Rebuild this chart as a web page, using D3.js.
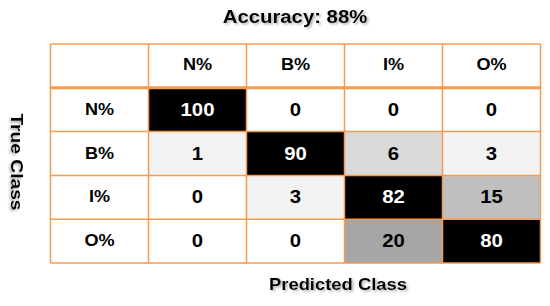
<!DOCTYPE html>
<html><head><meta charset="utf-8">
<script src="https://cdn.jsdelivr.net/npm/d3@7"></script>
<style>html,body{margin:0;padding:0;background:#fff;}</style>
</head><body>
<svg id="chart" width="550" height="306"></svg>
<script>
const title = "Accuracy: 88%";
const xTitle = "Predicted Class";
const yTitle = "True Class";
const predictedClasses = ["N%", "B%", "I%", "O%"];
const trueClasses = ["N%", "B%", "I%", "O%"];
const rowN = [100, 0, 0, 0];
const rowB = [1, 90, 6, 3];
const rowI = [0, 3, 82, 15];
const rowO = [0, 0, 20, 80];
const values = [rowN, rowB, rowI, rowO];
const shadeThresholds = [1, 5, 10, 18, 50];
const shadeColors = ["#ffffff", "#f2f2f2", "#d9d9d9", "#bfbfbf", "#a6a6a6", "#000000"];

const svg = d3.select("#chart");
const defs = svg.append("defs");
const f = defs.append("filter").attr("id", "sh").attr("x", "-10%").attr("y", "-30%").attr("width", "130%").attr("height", "180%");
f.append("feDropShadow").attr("dx", 1.5).attr("dy", 1.5).attr("stdDeviation", 1).attr("flood-color", "#777").attr("flood-opacity", 0.6);

const FONT = "'Liberation Sans', Arial, sans-serif";
const SX = 1.13;
const ORANGE = "#F79A4E";

const cols = ["", ...predictedClasses];
const rows = ["", ...trueClasses];
const x = d3.scaleBand().domain(cols).range([50.5, 540.5]);
const y = d3.scaleBand().domain(rows).range([44, 263]);
const shade = d3.scaleThreshold().domain(shadeThresholds).range(shadeColors);

function txt(g, tx, ty, s, size, opts = {}) {
  const t = g.append("text")
    .attr("transform", `translate(${tx},${ty}) ${opts.rot ? "rotate(" + opts.rot + ")" : ""} scale(${SX},1)`)
    .attr("text-anchor", "middle")
    .attr("dominant-baseline", "central")
    .attr("font-family", FONT)
    .attr("font-weight", "bold")
    .attr("font-size", size)
    .attr("fill", opts.fill || "#000")
    .text(s);
  if (opts.shadow) t.attr("filter", "url(#sh)");
  return t;
}

const cells = [];
trueClasses.forEach((r, i) => predictedClasses.forEach((c, j) => cells.push({ r, c, v: values[i][j] })));

const g = svg.append("g");
cols.forEach(c => g.append("rect").attr("x", x(c)).attr("y", y("")).attr("width", x.bandwidth()).attr("height", y.bandwidth()).attr("fill", "#fff"));
rows.forEach(r => g.append("rect").attr("x", x("")).attr("y", y(r)).attr("width", x.bandwidth()).attr("height", y.bandwidth()).attr("fill", "#fff"));

g.selectAll("rect.cell").data(cells).join("rect").attr("class", "cell")
  .attr("x", d => x(d.c)).attr("y", d => y(d.r))
  .attr("width", x.bandwidth()).attr("height", y.bandwidth())
  .attr("fill", d => shade(d.v));

const lines = svg.append("g").attr("stroke", ORANGE).attr("stroke-width", 1.5);
x.domain().forEach(c => lines.append("line").attr("x1", x(c)).attr("x2", x(c)).attr("y1", y.range()[0]).attr("y2", y.range()[1]));
lines.append("line").attr("x1", x.range()[1]).attr("x2", x.range()[1]).attr("y1", y.range()[0]).attr("y2", y.range()[1]);
y.domain().forEach(r => lines.append("line").attr("x1", x.range()[0]).attr("x2", x.range()[1]).attr("y1", y(r)).attr("y2", y(r)));
lines.append("line").attr("x1", x.range()[0]).attr("x2", x.range()[1]).attr("y1", y.range()[1]).attr("y2", y.range()[1]);
lines.append("line").attr("x1", x.range()[0]).attr("x2", x.range()[1]).attr("y1", y(trueClasses[0])).attr("y2", y(trueClasses[0])).attr("stroke-width", 3);

const tg = svg.append("g");
predictedClasses.forEach(c => txt(tg, x(c) + x.bandwidth() / 2, y("") + y.bandwidth() / 2 - 1, c, 16));
trueClasses.forEach(r => txt(tg, x("") + x.bandwidth() / 2, y(r) + y.bandwidth() / 2, r, 16));
cells.forEach(d => txt(tg, x(d.c) + x.bandwidth() / 2, y(d.r) + y.bandwidth() / 2, d.v, 18, { fill: d.v >= 50 ? "#fff" : "#000" }));

txt(svg, 295, 17, title, 18, { shadow: true });
txt(svg, 338, 284, xTitle, 16.3, { shadow: true });
txt(svg, 17, 162, yTitle, 17, { shadow: true, rot: 90 });
</script>
</body></html>
